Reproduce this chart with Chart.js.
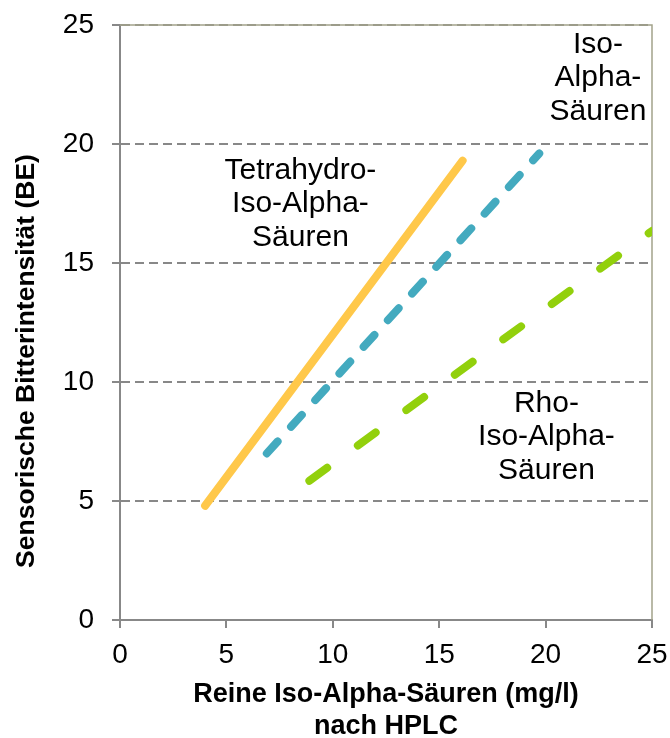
<!DOCTYPE html>
<html>
<head>
<meta charset="utf-8">
<script src="https://cdn.jsdelivr.net/npm/chart.js@4.4.1/dist/chart.umd.min.js"></script>
<style>
  body { margin: 0; background: #fff; }
</style>
</head>
<body>
<canvas id="myChart" width="670" height="738"></canvas>
<script>
// Endpunkte der drei Geraden (mg/l, BE)
let tetraX = [4.0, 16.1];
let tetraY = [4.8, 19.3];
let isoX = [6.9, 19.7];
let isoY = [7.0, 19.6];
let rhoX = [8.9, 25.0];
let rhoY = [5.85, 16.35];

let xTicks = [0, 5, 10, 15, 20, 25];
let yTicks = [0, 5, 10, 15, 20, 25];

let yTitle = 'Sensorische Bitterintensität (BE)';

let labels = [
    { text: ['Tetrahydro-', 'Iso-Alpha-', 'Säuren'], x: 8.48, y: 17.48 },
    { text: ['Iso-', 'Alpha-', 'Säuren'], x: 22.46, y: 22.77 },
    { text: ['Rho-', 'Iso-Alpha-', 'Säuren'], x: 20.04, y: 7.69 }
];

function toPoints(xs, ys) {
    let pts = [];
    for (let i = 0; i < xs.length; i++) {
        pts.push({ x: xs[i], y: ys[i] });
    }
    return pts;
}

let textPlugin = {
    id: 'textLabels',
    beforeDatasetsDraw(chart) {
        // duenner Rahmen oben und rechts
        let c = chart.ctx;
        let area = chart.chartArea;
        c.save();
        c.strokeStyle = '#a3a38a';
        c.lineWidth = 1.5;
        c.beginPath();
        c.moveTo(area.left, area.top);
        c.lineTo(area.right, area.top);
        c.lineTo(area.right, area.bottom);
        c.stroke();
        c.restore();
    },
    afterDatasetsDraw(chart) {
        let c = chart.ctx;
        let xs = chart.scales.x;
        let ys = chart.scales.y;
        c.save();
        c.fillStyle = '#000';
        c.font = '30px "Liberation Sans", Arial, sans-serif';
        c.textAlign = 'center';
        c.textBaseline = 'middle';
        labels.forEach(l => {
            let px = xs.getPixelForValue(l.x);
            let py = ys.getPixelForValue(l.y);
            l.text.forEach((t, i) => {
                c.fillText(t, px, py + (i - 1) * 33.5);
            });
        });
        // Achsentitel links, etwas unterhalb der Mitte wie im Original
        c.translate(27, 361);
        c.rotate(-Math.PI / 2);
        c.font = 'bold 26.5px "Liberation Sans", Arial, sans-serif';
        c.fillText(yTitle, 0, 0);
        c.restore();
    }
};

let ctx = document.getElementById('myChart').getContext('2d');
let myChart = new Chart(ctx, {
    type: 'scatter',
    data: {
        datasets: [
            {
                label: 'Tetrahydro-Iso-Alpha-Säuren',
                data: toPoints(tetraX, tetraY),
                showLine: true,
                borderColor: '#ffc84a',
                borderWidth: 8,
                borderCapStyle: 'round',
                pointRadius: 0
            },
            {
                label: 'Iso-Alpha-Säuren',
                data: toPoints(isoX, isoY),
                showLine: true,
                borderColor: '#43aabf',
                borderWidth: 8,
                borderCapStyle: 'round',
                borderDash: [16, 20],
                pointRadius: 0
            },
            {
                label: 'Rho-Iso-Alpha-Säuren',
                data: toPoints(rhoX, rhoY),
                showLine: true,
                borderColor: '#92d00c',
                borderWidth: 8,
                borderCapStyle: 'round',
                borderDash: [22, 38],
                pointRadius: 0
            }
        ]
    },
    options: {
        responsive: false,
        animation: false,
        layout: { padding: { top: 25, right: 0, left: 12, bottom: 0 } },
        plugins: {
            legend: { display: false },
            tooltip: { enabled: false }
        },
        scales: {
            x: {
                type: 'linear',
                min: 0,
                max: 25,
                afterBuildTicks: axis => { axis.ticks = xTicks.map(v => ({ value: v })); },
                afterFit: axis => {
                    axis.height = 118;
                    axis.paddingLeft = 0;
                    axis.paddingRight = 18;
                },
                ticks: {
                    color: '#000',
                    padding: 10,
                    font: { family: '"Liberation Sans", Arial, sans-serif', size: 28 }
                },
                grid: {
                    drawOnChartArea: false,
                    drawTicks: true,
                    tickLength: 8,
                    color: '#888',
                    lineWidth: 2
                },
                border: { color: '#888', width: 2 },
                title: {
                    display: true,
                    text: ['Reine Iso-Alpha-Säuren (mg/l)', 'nach HPLC'],
                    color: '#000',
                    padding: { top: 0, bottom: -5 },
                    font: { family: '"Liberation Sans", Arial, sans-serif', size: 27, weight: 'bold', lineHeight: 1.2 }
                }
            },
            y: {
                type: 'linear',
                min: 0,
                max: 25,
                afterBuildTicks: axis => { axis.ticks = yTicks.map(v => ({ value: v })); },
                afterFit: axis => {
                    axis.width = 108;
                    axis.paddingTop = 0;
                    axis.paddingBottom = 0;
                },
                ticks: {
                    color: '#000',
                    padding: 18,
                    font: { family: '"Liberation Sans", Arial, sans-serif', size: 28 }
                },
                grid: {
                    color: '#888',
                    lineWidth: 2,
                    tickLength: 8,
                    tickBorderDash: [9, 5]
                },
                border: { color: '#888', width: 2, dash: [9, 5] },
                title: { display: false }
            }
        }
    },
    plugins: [textPlugin]
});
</script>
</body>
</html>
